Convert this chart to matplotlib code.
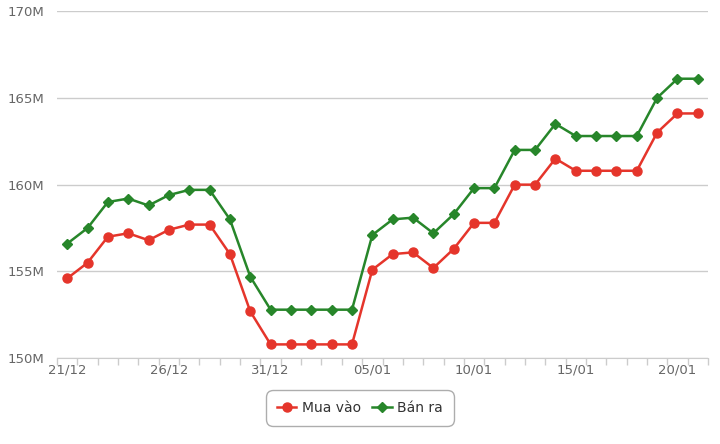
import matplotlib
matplotlib.use('Agg')
import matplotlib.pyplot as plt
import numpy as np

# dates 21/12 -> 21/01
dates = ['21/12', '22/12', '23/12', '24/12', '25/12', '26/12', '27/12', '28/12',
         '29/12', '30/12', '31/12', '01/01', '02/01', '03/01', '04/01', '05/01',
         '06/01', '07/01', '08/01', '09/01', '10/01', '11/01', '12/01', '13/01',
         '14/01', '15/01', '16/01', '17/01', '18/01', '19/01', '20/01', '21/01']

# prices in millions
mua_vao = [154.6, 155.5, 157.0, 157.2, 156.8, 157.4, 157.7, 157.7,
           156.0, 152.7, 150.8, 150.8, 150.8, 150.8, 150.8, 155.1,
           156.0, 156.1, 155.2, 156.3, 157.8, 157.8, 160.0, 160.0,
           161.5, 160.8, 160.8, 160.8, 160.8, 163.0, 164.1, 164.1]
ban_ra = [156.6, 157.5, 159.0, 159.2, 158.8, 159.4, 159.7, 159.7,
          158.0, 154.7, 152.8, 152.8, 152.8, 152.8, 152.8, 157.1,
          158.0, 158.1, 157.2, 158.3, 159.8, 159.8, 162.0, 162.0,
          163.5, 162.8, 162.8, 162.8, 162.8, 165.0, 166.1, 166.1]

yticks = [150, 155, 160, 165, 170]

fig = plt.figure(figsize=(7.2, 4.44), dpi=100)
ax = fig.add_axes([57 / 720, 1 - 358.3 / 444, (708 - 57) / 720, (358.3 - 11) / 444])

x = np.arange(len(dates))
red = '#e5352b'
green = '#27862a'
ax.plot(x, mua_vao, color=red, lw=1.8, marker='o', ms=6.5, label='Mua vào', zorder=3)
ax.plot(x, ban_ra, color=green, lw=1.8, marker='D', ms=4.6, label='Bán ra', zorder=3)

ax.set_xlim(-0.5, len(dates) - 0.5)
ax.set_ylim(150, 170)

# y grid
ax.set_yticks(yticks)
ax.set_yticklabels([f'{v}M' for v in yticks], fontsize=9.5, color='#666666')
ax.yaxis.grid(True, color='#cccccc', lw=1)
ax.tick_params(axis='y', length=0, pad=9)

# x axis: ticks on category boundaries, labels every 5 days
ax.set_xticks(np.arange(-0.5, len(dates), 1.0))
ax.set_xticklabels([])
ax.set_xticks(x[::5], minor=True)
ax.set_xticklabels([dates[i] for i in x[::5]], minor=True, fontsize=9.5, color='#666666')
ax.tick_params(axis='x', which='major', length=5, color='#cccccc', width=1)
ax.tick_params(axis='x', which='minor', length=0, pad=4)

for s in ['top', 'right', 'left']:
    ax.spines[s].set_visible(False)
ax.spines['bottom'].set_color('#cccccc')
ax.set_axisbelow(True)

leg = fig.legend(loc='center', bbox_to_anchor=(360 / 720, 1 - 408 / 444), ncol=2,
                 frameon=True, fontsize=10, handlelength=1.4, columnspacing=0.8,
                 handletextpad=0.4, borderpad=0.6)
leg.get_frame().set_edgecolor('#999999')
leg.get_frame().set_linewidth(1)
leg.get_frame().set_boxstyle('round,pad=0.2,rounding_size=0.5')
for t in leg.get_texts():
    t.set_color('#333333')

fig.savefig('out.png', dpi=100)
